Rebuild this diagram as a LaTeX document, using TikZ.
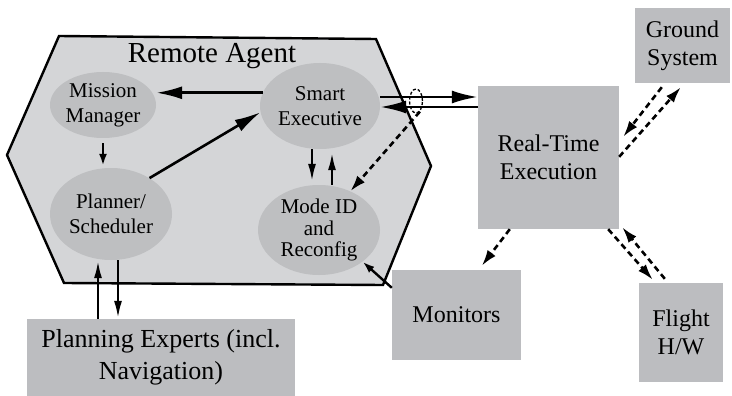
\documentclass[tikz,border=0pt]{standalone}
\usepackage{fontspec}
\setmainfont{Liberation Serif}
\usetikzlibrary{positioning,arrows.meta,shapes.geometric}
\definecolor{hexgray}{HTML}{D4D5D7}
\definecolor{ellgray}{HTML}{BEBFC1}
\definecolor{boxgray}{HTML}{BCBDC0}

\begin{document}
\begin{tikzpicture}[x=1pt,y=-1pt,
  module/.style={ellipse,fill=ellgray,inner sep=0pt,align=center,
    font=\fontsize{21}{25}\selectfont},
  unit/.style={fill=boxgray,inner sep=0pt,align=center,
    font=\fontsize{24}{28}\selectfont},
  link/.style={-{Latex[length=26pt,width=13pt]},line width=2.6pt},
  slink/.style={-{Latex[length=18pt,width=8pt]},line width=2.6pt},
  tick/.style={-{Latex[length=12pt,width=8pt]},line width=2.4pt},
  feed/.style={-{Latex[length=16pt,width=10pt]},line width=2.6pt,
    dash pattern=on 6pt off 4pt}]
\useasboundingbox (0,0) rectangle (732,396);

% --- remote agent hull ---
\draw[fill=hexgray,line width=2.4pt]
  (59,36) -- (376,39) -- (431,166) -- (383,285) -- (64,283) -- (7,155) -- cycle;
\node[font=\fontsize{29}{34}\selectfont] (ra) at (212,56) {Remote Agent};

% --- modules inside the agent ---
\node[module,minimum width=106,minimum height=66] (mm) at (103,105) {Mission\\Manager};
\node[module,minimum width=120,minimum height=86] (se) at (320,106) {Smart\\Executive};
\node[module,minimum width=122,minimum height=92] (ps) at (111,214) {Planner/\\Scheduler};
\node[module,minimum width=122,minimum height=90,font=\fontsize{21}{21.5}\selectfont]
  (mid) at (319,230) {Mode ID\\and\\Reconfig};

% --- outside units ---
\node[unit,minimum width=141,minimum height=143] (rte) at (548.5,157.5) {Real-Time\\Execution};
\node[unit,minimum width=95,minimum height=75] (gs) at (682.5,45.5) {Ground\\System};
\node[unit,minimum width=129,minimum height=90] (mon) at (456.5,315) {Monitors};
\node[unit,minimum width=84,minimum height=99] (fhw) at (681,332.5) {Flight\\H/W};
\node[unit,minimum width=268,minimum height=77,font=\fontsize{26}{32}\selectfont]
  (pe) at (161,357.5) {Planning Experts (incl.\\Navigation)};

% --- internal links ---
\draw[link] (se.167) -- (se.167 -| mm.east);
\draw[tick] ([yshift=-5pt]mm.south) -- ([yshift=2pt]mm.south |- ps.north);
\draw[link] (ps.43) -- (se.186);
\draw[slink] ([xshift=-8pt]se.south) -- ([xshift=-8pt,yshift=3pt]se.south |- mid.north);
\draw[slink] ([xshift=12pt]se.south |- mid.north) -- ([xshift=12pt,yshift=-3pt]se.south);

% --- executive <-> real-time execution, with the tap ---
\draw[link] ([yshift=9pt]se.east) -- ([yshift=9pt]se.east -| rte.west);
\draw[link] ([yshift=-1pt]se.east -| rte.west) -- ([yshift=-1pt]se.east);
\node[ellipse,draw,line width=1.3pt,dash pattern=on 3pt off 2pt,inner sep=0pt,
  minimum width=13,minimum height=24] (tap) at (416,101) {};
\draw[feed] (tap.-70) -- (mid.51);

% --- planner <-> planning experts ---
\draw[slink] ([xshift=-13pt]ps.south |- pe.north) -- ([xshift=-13pt]ps.south);
\draw[slink] ([xshift=7pt]ps.south) -- ([xshift=7pt]ps.south |- pe.north);

% --- monitors ---
\draw[tick] ([yshift=-18pt]mon.north west) -- (mid.-36);
\draw[feed] ([xshift=32pt]rte.south west) -- ([xshift=90pt,yshift=4pt]mon.north west);

% --- flight h/w and ground ---
\draw[feed] ([xshift=-11pt]rte.south east) -- ([xshift=14pt,yshift=3pt]fhw.north west);
\draw[feed] ([xshift=26pt,yshift=4pt]fhw.north west) -- ([xshift=3pt,yshift=2pt]rte.south east);
\draw[feed] ([xshift=27pt,yshift=-4pt]gs.south west) -- ([xshift=4pt,yshift=-51pt]rte.north east);
\draw[feed] ([yshift=-71pt]rte.north east) -- ([xshift=46pt,yshift=-4pt]gs.south west);
\end{tikzpicture}
\end{document}
